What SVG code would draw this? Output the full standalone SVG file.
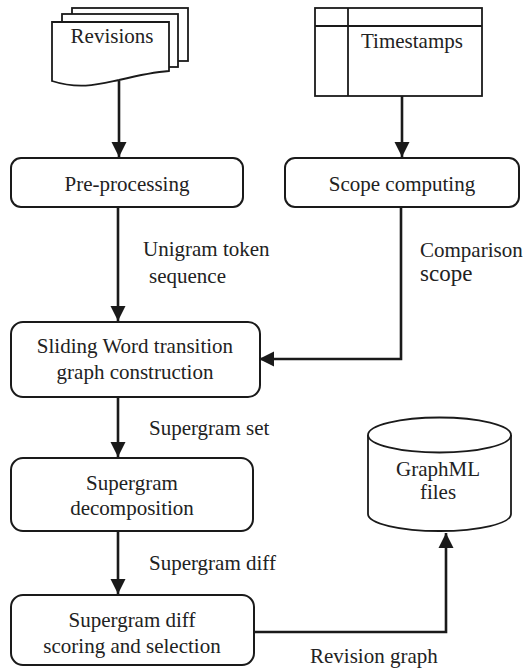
<svg xmlns="http://www.w3.org/2000/svg" width="525" height="669" viewBox="0 0 525 669">
<style>
.box{fill:#fff;stroke:#1a1a1a;stroke-width:2}
.shape{fill:#fff;stroke:#1a1a1a;stroke-width:1.8}
.t{font-family:"Liberation Serif","Times New Roman",serif;font-size:21px;fill:#222}
.c{text-anchor:middle}
.edge{fill:none;stroke:#1a1a1a;stroke-width:2.6}
</style>
<defs>
<marker id="arr" markerUnits="userSpaceOnUse" markerWidth="16" markerHeight="16" viewBox="0 0 16 16" refX="15" refY="8" orient="auto">
<path d="M0,0.5 L15,8 L0,15.5 Z" fill="#1a1a1a"/>
</marker>
</defs>
<rect width="525" height="669" fill="#fff"/>
<g id="revisions">
<rect class="shape" x="72" y="8" width="116" height="53"/>
<rect class="shape" x="62" y="14" width="116" height="53"/>
<path class="shape" d="M52 22 H169 V71 C155 72 140 75 119 80 C100 84 80 90 52 81 Z"/>
<text class="t c" x="112" y="43">Revisions</text>
</g>
<g id="timestamps">
<rect class="shape" x="315" y="8" width="167" height="88"/>
<line class="shape" x1="315" y1="26" x2="482" y2="26"/>
<line class="shape" x1="348" y1="8" x2="348" y2="96"/>
<text class="t" x="361" y="48">Timestamps</text>
</g>
<g id="preprocessing">
<rect class="box" x="11" y="158" width="232" height="49" rx="10"/>
<text class="t c" x="127" y="191">Pre-processing</text>
</g>
<g id="scope">
<rect class="box" x="285" y="158" width="234" height="49" rx="10"/>
<text class="t c" x="402" y="191">Scope computing</text>
</g>
<g id="sliding">
<rect class="box" x="11" y="322" width="249" height="75" rx="12"/>
<text class="t c" x="135" y="353">Sliding Word transition</text>
<text class="t c" x="135" y="379">graph construction</text>
</g>
<g id="decomposition">
<rect class="box" x="11" y="458" width="242" height="73" rx="12"/>
<text class="t c" x="132" y="490">Supergram</text>
<text class="t c" x="132" y="515">decomposition</text>
</g>
<g id="scoring">
<rect class="box" x="11" y="595" width="243" height="70" rx="12"/>
<text class="t c" x="132" y="627">Supergram diff</text>
<text class="t c" x="132" y="653">scoring and selection</text>
</g>
<g id="graphml">
<path class="shape" d="M368 435 V514 A71.5 17 0 0 0 511 514 V435"/>
<ellipse class="shape" cx="439.5" cy="435" rx="71.5" ry="17.5"/>
<text class="t c" x="438" y="476">GraphML</text>
<text class="t c" x="438" y="499">files</text>
</g>
<g id="connectors">
<path class="edge" d="M119 81 V157" marker-end="url(#arr)"/>
<path class="edge" d="M402 96 V157" marker-end="url(#arr)"/>
<path class="edge" d="M118 207 V321" marker-end="url(#arr)"/>
<path class="edge" d="M401 207 V359 H259" marker-end="url(#arr)"/>
<path class="edge" d="M118 397 V457" marker-end="url(#arr)"/>
<path class="edge" d="M118 531 V594" marker-end="url(#arr)"/>
<path class="edge" d="M254 632 H446 V533" marker-end="url(#arr)"/>
</g>
<g id="labels">
<text class="t" x="143" y="256">Unigram token</text>
<text class="t" x="149" y="283">sequence</text>
<text class="t" x="420" y="257">Comparison</text>
<text class="t" x="420" y="281" style="font-size:23px">scope</text>
<text class="t" x="149" y="435">Supergram set</text>
<text class="t" x="149" y="570">Supergram diff</text>
<text class="t" x="310" y="663">Revision graph</text>
</g>
</svg>
